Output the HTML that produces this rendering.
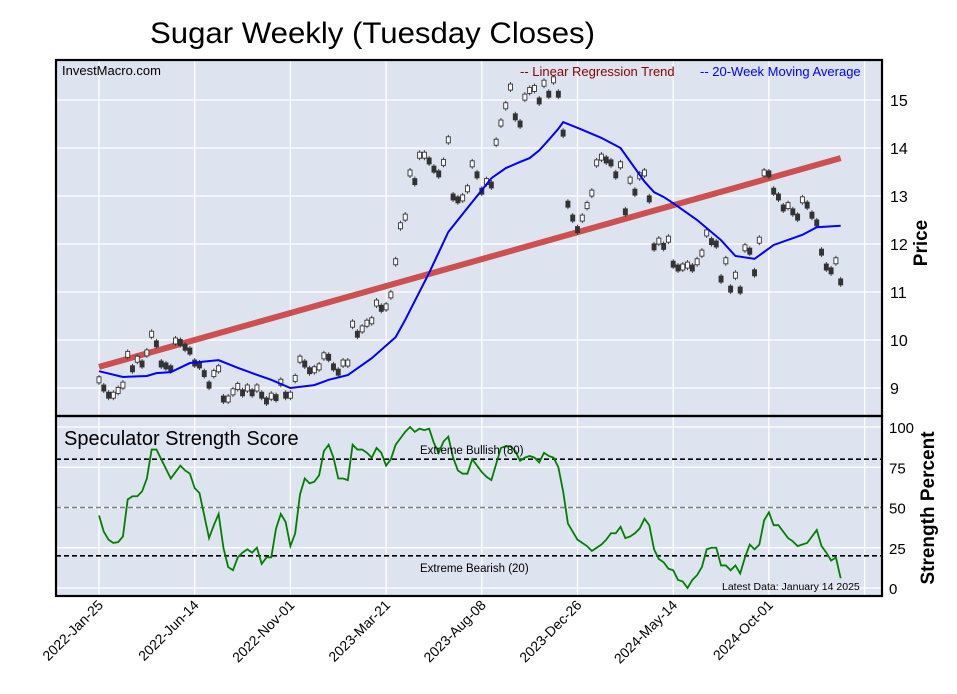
<!DOCTYPE html>
<html><head><meta charset="utf-8"><style>
body{margin:0;background:#fff;}
svg{display:block;font-family:"Liberation Sans",Arial,sans-serif;}
</style></head><body>
<svg id="c" width="957" height="694" viewBox="0 0 957 694">
<text x="150" y="43" font-size="30" textLength="445" lengthAdjust="spacingAndGlyphs">Sugar Weekly (Tuesday Closes)</text>
<rect x="56" y="60" width="826" height="356" fill="#dde3ef"/>
<rect x="56" y="416" width="826" height="180" fill="#dde3ef"/>
<g id="grid"></g>
<g id="marks"></g>
<rect x="56" y="60" width="826" height="356" fill="none" stroke="#000" stroke-width="2.2"/>
<rect x="56" y="416" width="826" height="180" fill="none" stroke="#000" stroke-width="2.2"/>
<text x="62" y="75" font-size="13">InvestMacro.com</text>
<text x="520" y="76" font-size="13" fill="#8b0000">-- Linear Regression Trend</text>
<text x="700" y="76" font-size="13" fill="#0000ff">-- 20-Week Moving Average</text>
<text x="64" y="445" font-size="20">Speculator Strength Score</text>
<text x="420" y="454" font-size="11.5">Extreme Bullish (80)</text>
<text x="420" y="572" font-size="11.5">Extreme Bearish (20)</text>
<text x="722" y="590" font-size="10.5">Latest Data: January 14 2025</text>
<text transform="translate(927,243) rotate(-90)" text-anchor="middle" font-size="19" font-weight="bold">Price</text>
<text transform="translate(934,508) rotate(-90)" text-anchor="middle" font-size="19" font-weight="bold">Strength Percent</text>
<g id="axes"></g>
</svg>
<script>
const closes=[9.17,9.0,8.85,8.85,8.95,9.06,9.7,9.4,9.6,9.5,9.73,10.12,9.92,9.5,9.46,9.4,9.98,9.95,9.85,9.77,9.52,9.48,9.3,9.06,9.3,9.4,8.77,8.77,8.92,9.03,8.9,9.0,8.9,9.0,8.85,8.73,8.83,8.8,9.12,8.85,8.85,9.2,9.6,9.5,9.36,9.38,9.44,9.67,9.64,9.44,9.33,9.52,9.52,10.33,10.12,10.23,10.35,10.4,10.77,10.66,10.69,10.94,11.63,12.38,12.56,13.48,13.3,13.85,13.85,13.73,13.56,13.46,13.7,14.17,12.98,12.92,12.96,13.15,13.67,13.44,13.1,13.3,13.23,14.12,14.52,14.88,15.27,14.65,14.5,15.06,15.2,15.24,14.98,15.35,15.12,15.42,15.12,14.31,12.83,12.54,12.3,12.54,12.8,13.06,13.69,13.81,13.75,13.69,13.44,13.65,12.67,13.33,13.08,13.42,13.48,12.94,11.94,12.06,11.95,12.1,11.58,11.5,11.52,11.56,11.5,11.63,11.81,12.23,12.05,12.0,11.27,11.65,11.06,11.35,11.04,11.92,11.85,11.4,12.08,13.48,13.46,13.1,12.98,12.75,12.8,12.67,12.56,12.92,12.81,12.6,12.44,11.83,11.52,11.44,11.65,11.21];
const strength=[45,35,30,28,28.5,32,55,57,57,60,68,86,86,80,74,68,72,76,73,71,62,59,45,31,39,46,25,13,11,19,22,24,22,25,15,19,19,37,46,41,26,34,58,68,65,66,70,85,89,81,68,68,67,89,86,86,84,81,87,84,76,80,89,93,97,100,97,99,98,99,90,84,91,94,81,73,71,71,80,76,72,69,67,77,87,88,88,85,79,81,82,81,78,84,82,81,75,60,40,35,30,28,26,23,25,27,30,34,34,38,31,32,34,37,43,39,24,18,16,12,11,5,4,0,5,8,13,24,25,25,14,14,11,14,9,19,27,24,27,42,47,39,39,35,31,29,26,27,28,32,36,26,22,17,19,6];
const maWeeks=[0,5,10,12,15,19,25,29,32,36,40,45,48,52,57,62,64,69,73,77,82,85,88,90,92,94,96,97,101,105,109,112,114,116,118,120,125,130,133,137,141,147,150,155];
const maValues=[9.35,9.23,9.25,9.31,9.33,9.52,9.58,9.42,9.31,9.17,9.0,9.06,9.17,9.27,9.62,10.06,10.42,11.4,12.25,12.75,13.37,13.58,13.71,13.79,13.95,14.17,14.4,14.54,14.38,14.21,14.0,13.58,13.3,13.08,12.98,12.85,12.5,12.08,11.75,11.69,11.98,12.19,12.35,12.38];
const trendStart=9.44, trendEnd=13.79;
const priceTicks=[9,10,11,12,13,14,15];
const strengthTicks=[0,25,50,75,100];
const dateLabels=["2022-Jan-25","2022-Jun-14","2022-Nov-01","2023-Mar-21","2023-Aug-08","2023-Dec-26","2024-May-14","2024-Oct-01"];
const dateWeeks=[0,20,40,60,80,100,120,140];

const NS="http://www.w3.org/2000/svg";
const xW=i=>99+i*4.785;
const yP=p=>100+(15-p)*48;
const yS=s=>588-s*1.61;
function mk(parent,tag,attrs){const e=document.createElementNS(NS,tag);for(const k in attrs)e.setAttribute(k,attrs[k]);document.getElementById(parent).appendChild(e);return e;}

for(let i=0;i<9;i++){const x=xW(i*20);
 let g=mk('grid','line',{x1:x,x2:x,y1:60,y2:596,stroke:'#fff','stroke-width':1.3});
 
 }
priceTicks.forEach(p=>{let g=mk('grid','line',{x1:56,x2:882,y1:yP(p),y2:yP(p),stroke:'#fff','stroke-width':1.3});
 
 
 let t=mk('axes','text',{x:890,y:yP(p)+6,'font-size':16});t.textContent=p;
 
 });
strengthTicks.forEach(s=>{let g=mk('grid','line',{x1:56,x2:882,y1:yS(s),y2:yS(s),stroke:'#fff','stroke-width':1.3});
 
 
 let t=mk('axes','text',{x:889,y:yS(s)+6,'font-size':15});t.textContent=s;
 
 });
[[80,'#000'],[50,'#808080'],[20,'#000']].forEach(([v,c])=>{let l=mk('grid','line',{x1:56,x2:882,y1:yS(v),y2:yS(v),stroke:c,'stroke-width':1.6,'stroke-dasharray':'5,3'});
 
 });
dateLabels.forEach((d,k)=>{const x=xW(dateWeeks[k]);
 let t=mk('axes','text',{transform:`translate(${x+5},${606}) rotate(-45)`,'text-anchor':'end','font-size':14});t.textContent=d;
 
 });

let tr=mk('marks','line',{x1:xW(0),y1:yP(trendStart),x2:xW(closes.length-1),y2:yP(trendEnd),stroke:'#cd5050','stroke-width':6});



closes.forEach((c,i)=>{const prev=i>0?closes[i-1]:c;const up=c>=prev;const x=xW(i),y=yP(c);
 let w=mk('marks','line',{x1:x,x2:x,y1:y-5,y2:y+5,stroke:'#333','stroke-width':0.9});
 
 
 let b=mk('marks','rect',{x:x-2,y:y-3,width:4,height:6,fill:up?'#fff':'#333',stroke:'#333','stroke-width':0.9});
 
 });

let ma=mk('marks','polyline',{points:maWeeks.map((w,k)=>xW(w)+','+yP(maValues[k])).join(' '),fill:'none',stroke:'#0000ff','stroke-width':2});



let st=mk('marks','polyline',{points:strength.map((s,i)=>xW(i)+','+yS(s)).join(' '),fill:'none',stroke:'#008000','stroke-width':1.8});


</script>
</body></html>
